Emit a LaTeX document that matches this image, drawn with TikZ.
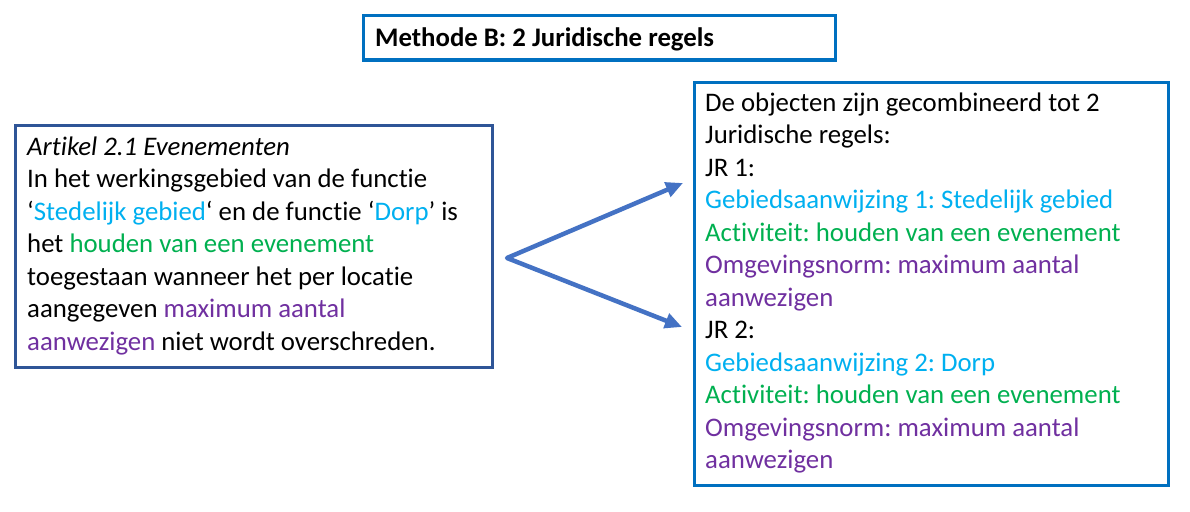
\documentclass[tikz,border=0pt]{standalone}
\usepackage{fontspec}
\setmainfont{Carlito}[Ligatures=NoCommon]
\usetikzlibrary{arrows.meta}
\definecolor{boxblue}{HTML}{0070C0}
\definecolor{darkblue}{HTML}{2F5597}
\definecolor{arrowblue}{HTML}{4472C4}
\definecolor{cy}{HTML}{00B0F0}
\definecolor{gr}{HTML}{00B050}
\definecolor{pu}{HTML}{7030A0}
\frenchspacing
\tikzset{
  frame/.style={draw=#1, line width=3pt, inner sep=0pt, fill=white},
  body/.style={anchor=north west, inner sep=0pt, align=left, font=\fontsize{26.8}{32.5}\selectfont},
  conn/.style={draw=arrowblue, line width=4.5pt, line join=round,
    {Triangle[length=17pt,width=15pt]}-{Triangle[length=17pt,width=15pt]}}
}
\begin{document}
\begin{tikzpicture}[x=1pt,y=-1pt]
\useasboundingbox[fill=white] (0,0) rectangle (1190,511);
% title
\node[frame=boxblue, minimum width=472pt, minimum height=44pt] (titlebox) at (599,38) {};
\node[anchor=base west, inner sep=0pt, font=\bfseries\fontsize{26.8}{32.5}\selectfont] (title) at (375,47) {Methode B: 2 Juridische regels};
% left box
\node[frame=darkblue, minimum width=477pt, minimum height=242pt] (artbox) at (253.5,246) {};
\node[body] (arttext) at (27,130) {\rule{0pt}{25pt}\textit{Artikel 2.1 Evenementen}\\
In het werkingsgebied van de functie\\
‘\textcolor{cy}{Stedelijk gebied}‘ en de functie ‘\textcolor{cy}{Dorp}’ is\\
het \textcolor{gr}{houden van een evenement}\\
toegestaan wanneer het per locatie\\
aangegeven \textcolor{pu}{maximum aantal}\\
\textcolor{pu}{aanwezigen} niet wordt overschreden.};
% right box
\node[frame=boxblue, minimum width=474pt, minimum height=403pt] (jrbox) at (931,283.5) {};
\node[body] (jrtext) at (705,86) {\rule{0pt}{25pt}De objecten zijn gecombineerd tot 2\\
Juridische regels:\\
JR 1:\\
\textcolor{cy}{Gebiedsaanwijzing 1: Stedelijk gebied}\\
\textcolor{gr}{Activiteit: houden van een evenement}\\
\textcolor{pu}{Omgevingsnorm: maximum aantal}\\
\textcolor{pu}{aanwezigen}\\
JR 2:\\
\textcolor{cy}{Gebiedsaanwijzing 2: Dorp}\\
\textcolor{gr}{Activiteit: houden van een evenement}\\
\textcolor{pu}{Omgevingsnorm: maximum aantal}\\
\textcolor{pu}{aanwezigen}};
% arrows
\coordinate (fork) at (507,258);
\coordinate (tip1) at (683,183);
\coordinate (tip2) at (682,327);
\draw[conn] (tip1) -- (fork) -- (tip2);
\end{tikzpicture}
\end{document}
